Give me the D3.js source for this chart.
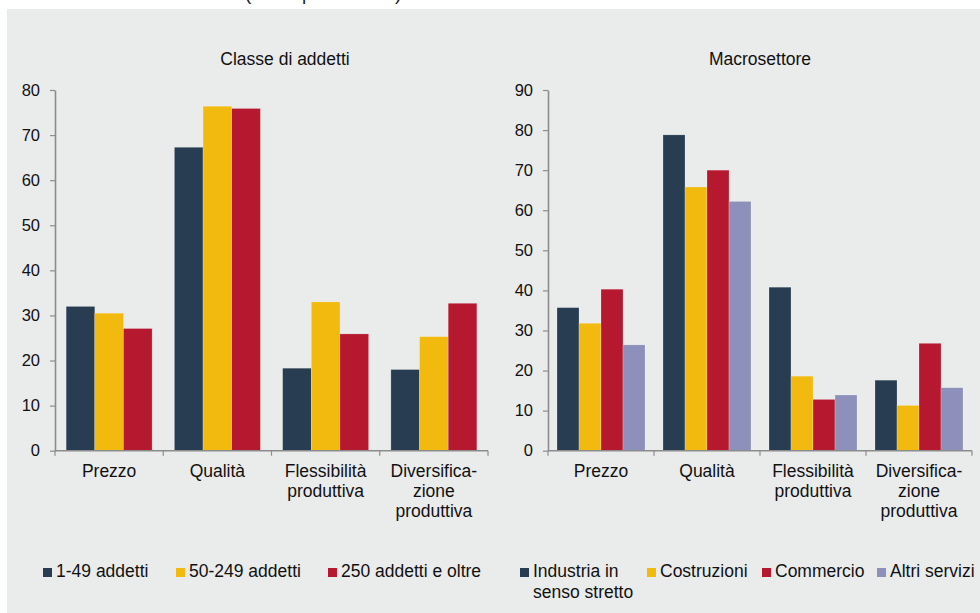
<!DOCTYPE html>
<html><head><meta charset="utf-8">
<script src="https://cdn.jsdelivr.net/npm/d3@7"></script>
<style>html,body{margin:0;padding:0;background:#fff;}svg{display:block;font-family:"Liberation Sans",Arial,sans-serif;}</style>
</head><body><svg id="c" width="980" height="613"></svg>
<script>
const categories = ["Prezzo", "Qualità", "Flessibilità\nproduttiva", "Diversifica-\nzione\nproduttiva"];

const leftTitle = "Classe di addetti";
const leftSeries = ["1-49 addetti", "50-249 addetti", "250 addetti e oltre"];
const leftValues = [
  [32.0, 67.3, 18.3, 18.0],
  [30.5, 76.4, 33.0, 25.3],
  [27.1, 75.9, 25.9, 32.7]
];
const leftTicks = [0, 10, 20, 30, 40, 50, 60, 70, 80];

const rightTitle = "Macrosettore";
const rightSeries = ["Industria in\nsenso stretto", "Costruzioni", "Commercio", "Altri servizi"];
const rightValues = [
  [35.7, 78.8, 40.8, 17.6],
  [31.8, 65.8, 18.6, 11.3],
  [40.3, 70.0, 12.8, 26.8],
  [26.4, 62.2, 13.9, 15.7]
];
const rightTicks = [0, 10, 20, 30, 40, 50, 60, 70, 80, 90];

const colors = ["#283D52", "#F2B90F", "#B5182F", "#8C90BA"];
const topNote = "(valori percentuali)";

const svg = d3.select("#c");
svg.append("rect").attr("x", 7).attr("y", 9).attr("width", 973).attr("height", 604).attr("fill", "#EAEBEB");
svg.append("text").attr("x", 245).attr("y", 0).attr("font-size", 19).attr("fill", "#222").text(topNote);

function panel(cfg) {
  const g = svg.append("g");
  const y = d3.scaleLinear().domain([0, cfg.ticks[cfg.ticks.length - 1]]).range([450.7, 90]);
  const x = d3.scaleBand().domain(categories).range([cfg.x0, cfg.x1]).paddingInner(cfg.pad).paddingOuter(cfg.pad / 2);
  const xs = d3.scaleBand().domain(cfg.series.map((d, i) => i)).range([0, x.bandwidth()]);

  // title
  g.append("text").attr("x", cfg.titleX).attr("y", 65).attr("text-anchor", "middle")
    .attr("font-size", 17.5).attr("fill", "#111").text(cfg.title);

  // bars
  cfg.values.forEach((vals, si) => {
    g.selectAll(null).data(vals).enter().append("rect")
      .attr("x", (d, ci) => x(categories[ci]) + xs(si))
      .attr("width", xs.bandwidth())
      .attr("y", d => y(d))
      .attr("height", d => y(0) - y(d))
      .attr("fill", colors[si])
      .attr("stroke", "rgba(255,255,255,0.35)")
      .attr("stroke-width", 0.6);
  });

  // y axis
  const ya = g.append("g").attr("transform", `translate(${cfg.x0},0)`)
    .call(d3.axisLeft(y).tickValues(cfg.ticks).tickSize(5).tickPadding(10).tickSizeOuter(0));
  ya.select(".domain").attr("stroke", "#8C8C8C").attr("stroke-width", 1.6);
  ya.selectAll(".tick line").attr("stroke", "#8C8C8C").attr("stroke-width", 1.2);
  ya.selectAll(".tick text").attr("font-size", 16.5).attr("fill", "#111").attr("font-family", "Liberation Sans, Arial, sans-serif");

  // x axis line + boundary ticks
  g.append("line").attr("x1", cfg.x0).attr("x2", cfg.x1).attr("y1", y(0)).attr("y2", y(0))
    .attr("stroke", "#8C8C8C").attr("stroke-width", 1.6);
  const step = x.step();
  const bounds = d3.range(categories.length + 1).map(i => cfg.x0 + i * step);
  g.selectAll(null).data(bounds).enter().append("line")
    .attr("x1", d => d).attr("x2", d => d).attr("y1", y(0)).attr("y2", y(0) + 5)
    .attr("stroke", "#8C8C8C").attr("stroke-width", 1.2);

  // category labels
  categories.forEach(c => {
    const t = g.append("text").attr("text-anchor", "middle").attr("font-size", 17.5).attr("fill", "#111");
    c.split("\n").forEach((line, li) => {
      t.append("tspan").attr("x", x(c) + x.bandwidth() / 2).attr("y", 477 + li * 20).text(line);
    });
  });

  // legend
  cfg.series.forEach((s, i) => {
    const lx = cfg.legendX[i];
    g.append("rect").attr("x", lx).attr("y", 568).attr("width", 9).attr("height", 9).attr("fill", colors[i]);
    const t = g.append("text").attr("font-size", 17.5).attr("fill", "#111");
    s.split("\n").forEach((line, li) => {
      t.append("tspan").attr("x", lx + 13).attr("y", 577 + li * 21).text(line);
    });
  });
}

panel({ title: leftTitle, titleX: 285, series: leftSeries, values: leftValues, ticks: leftTicks,
  x0: 55, x1: 488, pad: 0.206, legendX: [43, 176, 328] });
panel({ title: rightTitle, titleX: 760, series: rightSeries, values: rightValues, ticks: rightTicks,
  x0: 548, x1: 972, pad: 0.17, legendX: [520, 647, 762, 877] });
</script></body></html>
